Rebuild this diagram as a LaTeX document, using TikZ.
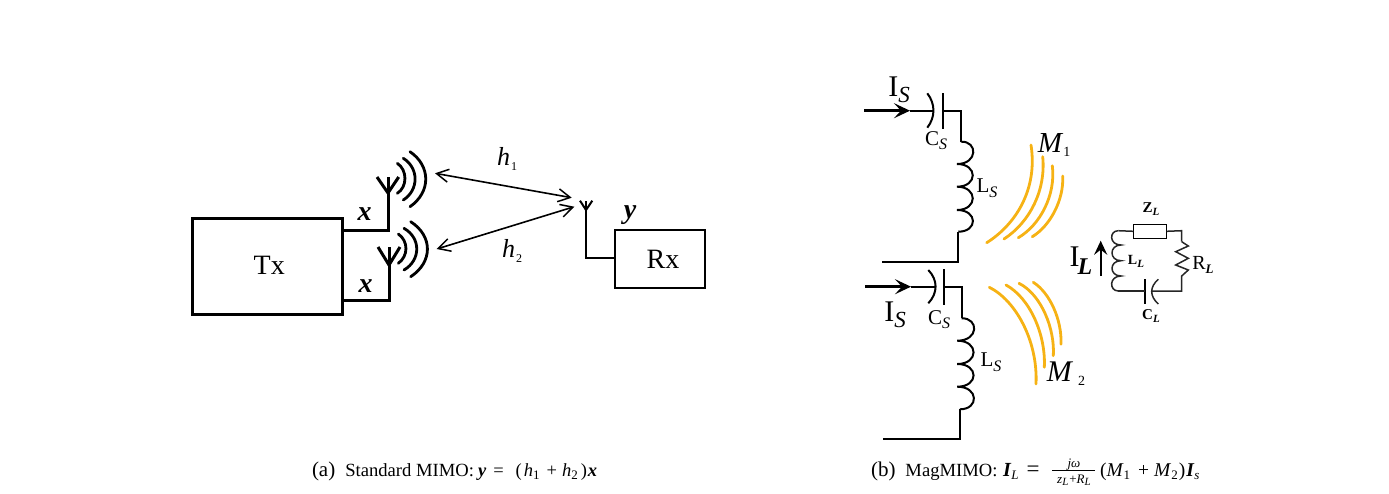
\documentclass[tikz,border=0pt]{standalone}
\usepackage{fontspec}
\setmainfont{Liberation Serif}
\usetikzlibrary{arrows.meta}
\newcommand\fs[1]{\fontsize{#1}{#1}\selectfont}
\newcommand\sbb[3]{\raisebox{-#1pt}{\fs{#2}#3}}
\newcommand\bi[1]{\textbf{\textit{#1}}}
\definecolor{fluxcol}{RGB}{246,178,20}
\tikzset{
  x=1pt,y=-1pt,
  lab/.style={inner sep=0pt,outer sep=0pt,text=black},
  captext/.style={lab,anchor=base west},
  heavy/.style={line width=3pt,black},
  radio/.style={line width=2.8pt,black,line cap=round},
  medium/.style={line width=2pt,black},
  thin wire/.style={line width=2pt,black},
  load/.style={line width=1.5pt,black!85},
  flux/.style={line width=2.8pt,fluxcol,line cap=round},
  link/.style={line width=1.6pt,black,{Straight Barb[length=12pt,width=13pt,line width=1.5pt]}-{Straight Barb[length=12pt,width=13pt,line width=1.5pt]}},
  feed/.style={line width=2.6pt,black,-{Stealth[length=16pt,width=15pt,inset=7pt]}},
}
\begin{document}
\begin{tikzpicture}
\useasboundingbox (0,0) rectangle (1389,493);
% ---- (a) ----
\node[lab,draw,line width=3pt,minimum width=150pt,minimum height=96pt] (tx) at (267.7,266.3) {\raisebox{2.5pt}{\hspace{3pt}\fs{28}Tx}};
\node[lab,draw,line width=2pt,minimum width=90pt,minimum height=58.3pt] (rx) at (660,259.2) {\hspace{6pt}\fs{28}Rx};
\coordinate (a1) at (388,230);
\coordinate (a1t) at (388,177);
\coordinate (a1j) at (388,193);
\coordinate (a1l) at (377,177);
\coordinate (a1r) at (398.7,177);
\coordinate (a2) at (389,300);
\coordinate (a2t) at (389,247);
\coordinate (a2j) at (389,265);
\coordinate (a2l) at (378,247);
\coordinate (a2r) at (400,247);
\draw[heavy] (tx.east |- a1) -- (a1) -- (a1t);
\draw[heavy] (tx.east |- a2) -- (a2) -- (a2t);
\draw[heavy] (a1l) -- (a1j) -- (a1r);
\draw[heavy] (a2l) -- (a2j) -- (a2r);
\draw[radio] (397.3,163.3) .. controls (407.5,170) and (407.5,187) .. (397.3,193.3);
\draw[radio] (403.3,158.3) .. controls (419,168) and (419,190) .. (403.3,200);
\draw[radio] (410,151.7) .. controls (431,166) and (431,192) .. (410,206.7);
\draw[radio] (398.3,234) .. controls (408.5,241) and (408.5,256) .. (398.3,263.3);
\draw[radio] (404,228.3) .. controls (421,238) and (421,260) .. (404,270);
\draw[radio] (410.7,221.7) .. controls (433,236) and (433,262) .. (410.7,276.7);
\coordinate (p1) at (435,173.3);
\coordinate (q1) at (571.7,197.7);
\coordinate (p2) at (436.7,249);
\coordinate (q2) at (574.3,206.7);
\draw[link] (p1) -- (q1);
\draw[link] (p2) -- (q2);
\coordinate (b) at (586,258.3);
\coordinate (bt) at (586,200.7);
\coordinate (bj) at (586,210);
\coordinate (bl) at (580,200.7);
\coordinate (br) at (592.3,200.7);
\draw[medium] (rx.west |- b) -- (b) -- (bt);
\draw[medium] (bl) -- (bj) -- (br);
\node[lab] (xa) at (364.5,214) {\fs{28}\bi{x}};
\node[lab] (xb) at (365.7,286) {\fs{28}\bi{x}};
\node[lab] (ya) at (630,215) {\fs{28}\bi{y}};
\node[lab] (h1) at (507,159) {\fs{26}\textit{h}\hspace{1pt}\sbb{5}{12}{1}};
\node[lab] (h2) at (512,251) {\fs{26}\textit{h}\hspace{1pt}\sbb{5}{12}{2}};
% ---- (b) left upper ----
\coordinate (s1a) at (864,110.7);
\coordinate (s1b) at (910,110.7);
\coordinate (s1c) at (934,110.7);
\coordinate (s1d) at (943.3,110.7);
\coordinate (s1e) at (961,110.7);
\coordinate (s1f) at (961,141.7);
\coordinate (s1g) at (958.3,231.7);
\coordinate (s1h) at (958.3,261.7);
\coordinate (s1i) at (882.3,261.7);
\draw[feed] (s1a) -- (s1b);
\draw[thin wire] (s1b) -- (s1c);
\draw[thin wire] (927.3,93.3) .. controls (935.5,104) and (935.5,117) .. (927.3,127.7);
\draw[thin wire] (943.3,93.3) -- (943.3,129.3);
\draw[thin wire] (s1d) -- (s1e) -- (s1f);
\draw[thin wire] (s1f) .. controls (978,141) and (978,164) .. (957,164)
  .. controls (978,164) and (978,186.7) .. (957,186.7)
  .. controls (978,186.7) and (978,210) .. (957,210)
  .. controls (978,210) and (978,231.7) .. (s1g);
\draw[thin wire] (s1g) -- (s1h) -- (s1i);
% ---- (b) left lower ----
\coordinate (s2a) at (865,286.7);
\coordinate (s2b) at (911,286.7);
\coordinate (s2c) at (936,286.7);
\coordinate (s2d) at (944.3,286.7);
\coordinate (s2e) at (961.7,286.7);
\coordinate (s2f) at (961.7,318.3);
\coordinate (s2g) at (960,409.3);
\coordinate (s2h) at (960,439);
\coordinate (s2i) at (883.3,439);
\draw[feed] (s2a) -- (s2b);
\draw[thin wire] (s2b) -- (s2c);
\draw[thin wire] (928.3,270) .. controls (938,280) and (938,293) .. (928.3,303.3);
\draw[thin wire] (944.3,269.3) -- (944.3,305);
\draw[thin wire] (s2d) -- (s2e) -- (s2f);
\draw[thin wire] (s2f) .. controls (979,318) and (979,340.7) .. (957.3,340.7)
  .. controls (979,340.7) and (979,364) .. (957.3,364)
  .. controls (979,364) and (979,386.7) .. (957.3,386.7)
  .. controls (979,386.7) and (979,409.3) .. (s2g);
\draw[thin wire] (s2g) -- (s2h) -- (s2i);
% flux lines
\draw[flux] (1031,145) .. controls (1038,190) and (1015,225) .. (986.7,242.7);
\draw[flux] (1042.7,156.7) .. controls (1046,190) and (1030,222) .. (1004,239);
\draw[flux] (1052.3,165.7) .. controls (1056,195) and (1040,225) .. (1018.3,237.7);
\draw[flux] (1062.7,176) .. controls (1064,200) and (1050,226) .. (1032.3,236.7);
\draw[flux] (989.3,287.3) .. controls (1015,300) and (1038,340) .. (1036,384);
\draw[flux] (1006,285) .. controls (1030,298) and (1046,335) .. (1044.3,367.3);
\draw[flux] (1019,283.3) .. controls (1042,295) and (1055,330) .. (1053.3,355.7);
\draw[flux] (1033.3,282.3) .. controls (1050,293) and (1062,320) .. (1061,344.3);
% labels
\node[lab] (is1) at (899,90) {\fs{30}I\sbb{6}{23}{\textit{S}}};
\node[lab] (cs1) at (936,141) {\fs{21}C\sbb{4}{16}{\textit{S}}};
\node[lab] (ls1) at (987,188) {\fs{21}L\sbb{5}{16}{\textit{S}}};
\node[lab] (m1) at (1054,145) {\fs{29}\textit{M}\sbb{4}{14}{1}};
\node[lab] (is2) at (895,315) {\fs{30}I\sbb{6}{23}{\textit{S}}};
\node[lab] (cs2) at (939,320) {\fs{21}C\sbb{4}{16}{\textit{S}}};
\node[lab] (ls2) at (991,362) {\fs{21}L\sbb{5}{16}{\textit{S}}};
\node[lab] (m2) at (1066,374) {\fs{30}\textit{M}\,\sbb{4}{14}{2}};
% ---- load circuit ----
\node[lab,draw,line width=1.4pt,fill=white,minimum width=33.4pt,minimum height=14pt] (z) at (1150,231.3) {};
\coordinate (la) at (1118.3,230.7);
\coordinate (lb) at (1181.7,230.7);
\coordinate (lc) at (1181.7,241.7);
\coordinate (ld) at (1181.7,276);
\coordinate (le) at (1181.7,291);
\coordinate (lf) at (1118.3,291);
\draw[load] (la) -- (z.west);
\draw[load] (z.east) -- (lb) -- (lc);
\draw[load] (lc) -- (1188.3,246) -- (1175.7,251.7) -- (1188.3,258.3) -- (1175.7,265) -- (1188.3,270) -- (ld) -- (le) -- (1151.7,291);
\draw[load] (1158.3,279.3) .. controls (1149.5,287) and (1149.5,296) .. (1158.3,304);
\draw[line width=1.6pt,black] (1145,279) -- (1145,304);
\draw[load] (1145,291) -- (lf);
\draw[load] (la) .. controls (1109,230.7) and (1109,245) .. (1121,245)
  .. controls (1109,245) and (1109,260.7) .. (1121,260.7)
  .. controls (1109,260.7) and (1109,276) .. (1121,276)
  .. controls (1109,276) and (1109,291) .. (lf);
\coordinate (ia) at (1100.7,276);
\coordinate (ib) at (1100.7,240.7);
\draw[line width=2.2pt,black,-{Stealth[length=14pt,width=13pt,inset=5pt]}] (ia) -- (ib);
\node[lab] (il) at (1081,261) {\fs{30}I\hspace{-2pt}\sbb{8}{24}{\bi{L}}};
\node[lab] (zl) at (1151,209) {\fs{15}\textbf{Z}\sbb{3}{11}{\bi{L}}};
\node[lab] (ll) at (1136,261) {\fs{14}\textbf{L}\sbb{3}{11}{\bi{L}}};
\node[lab] (rl) at (1203,265) {\fs{20}R\sbb{4}{13}{\bi{L}}};
\node[lab] (cl) at (1151,316) {\fs{15}\textbf{C}\sbb{3}{11}{\bi{L}}};
% ---- captions ----
\node[captext] (capa) at (312,476.7) {\fs{21}(a)\hspace{10pt}\fs{18.6}Standard MIMO:};
\node[captext] (fa) at (478,476.7) {\fs{18.5}\bi{y}\hspace{7pt}=\hspace{12pt}(\hspace{2pt}\textit{h}\sbb{2.5}{13}{1}\hspace{7pt}+\hspace{5pt}\textit{h}\sbb{2.5}{13}{2}\hspace{3pt})\hspace{1pt}\bi{x}};
\node[captext] (capb) at (871,476.7) {\fs{21}(b)\hspace{10pt}\fs{18.6}MagMIMO:};
\node[captext] (fb1) at (1003,476.7) {\fs{20}\bi{I}\sbb{2.5}{13}{\textit{L}}\hspace{8pt}\fs{23}=};
\coordinate (fl) at (1052,470.5);
\coordinate (fr) at (1095,470.5);
\draw[line width=0.8pt,black] (fl) -- (fr);
\node[lab,anchor=base] (fnum) at (1074,467) {\fs{13}\textit{jω}};
\node[lab,anchor=base] (fden) at (1074,483) {\fs{13}\textit{z}\sbb{2}{11}{\textit{L}}\hspace{1pt}+\textit{R}\sbb{2}{11}{\textit{L}}};
\node[captext] (fb2) at (1100,476.7) {\fs{19.5}(\textit{M}\sbb{2.5}{13}{1}\hspace{8pt}+\hspace{5pt}\textit{M}\sbb{2.5}{13}{2}\hspace{1pt})\hspace{1pt}\bi{I}\sbb{2.5}{13}{\textit{s}}};
\end{tikzpicture}
\end{document}
